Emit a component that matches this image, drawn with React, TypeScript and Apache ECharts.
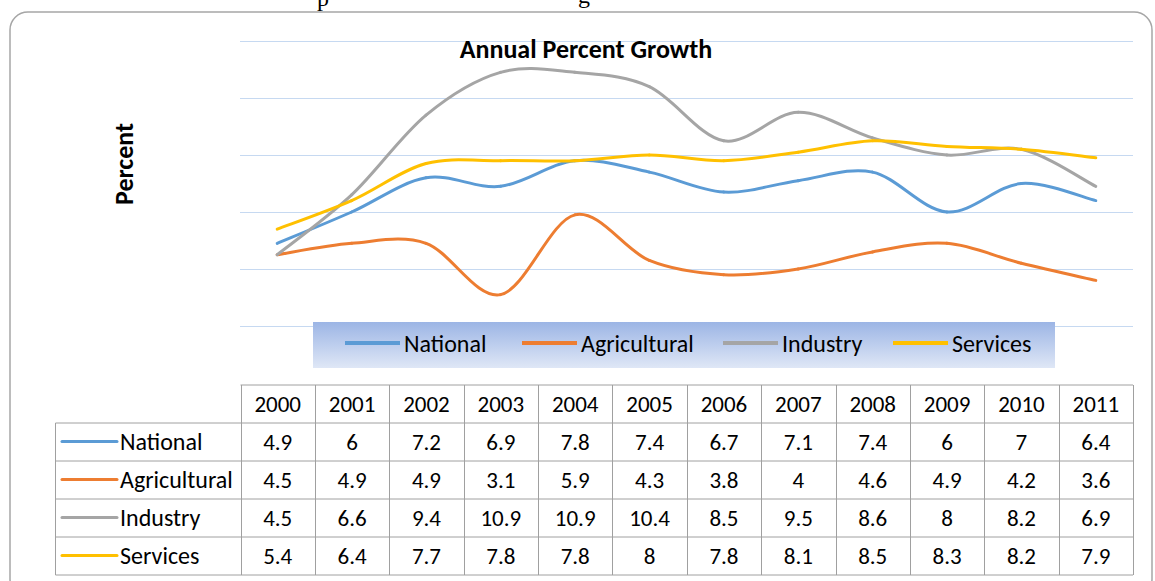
import React, { useEffect, useRef } from "react";
import * as echarts from "echarts";

const years = ["2000", "2001", "2002", "2003", "2004", "2005", "2006", "2007", "2008", "2009", "2010", "2011"];
const seriesNames = ["National", "Agricultural", "Industry", "Services"];
const national = [4.9, 6, 7.2, 6.9, 7.8, 7.4, 6.7, 7.1, 7.4, 6, 7, 6.4];
const agricultural = [4.5, 4.9, 4.9, 3.1, 5.9, 4.3, 3.8, 4, 4.6, 4.9, 4.2, 3.6];
const industry = [4.5, 6.6, 9.4, 10.9, 10.9, 10.4, 8.5, 9.5, 8.6, 8, 8.2, 6.9];
const services = [5.4, 6.4, 7.7, 7.8, 7.8, 8, 7.8, 8.1, 8.5, 8.3, 8.2, 7.9];
const seriesColors = ["#5b9bd5", "#ed7d31", "#a5a5a5", "#ffc000"];
const yMin = 2;
const yMax = 12;
const yInterval = 2;

const FONT = 'Carlito, "Liberation Sans", Arial, sans-serif';

// segment rows built from a series: [index, prevValue, value, nextValue, next2Value]
function segments(values: number[]) {
  const rows: number[][] = [];
  for (let i = 0; i < values.length - 1; i++) {
    const prev = i > 0 ? values[i - 1] : values[i];
    const next2 = i + 2 < values.length ? values[i + 2] : values[i + 1];
    rows.push([i, prev, values[i], values[i + 1], next2]);
  }
  return rows;
}

export default function App() {
  const ref = useRef<HTMLDivElement>(null);

  useEffect(() => {
    if (!ref.current) return;
    const chart = echarts.init(ref.current, null, { renderer: "svg" });
    const allData = [national, agricultural, industry, services];
    const n = years.length;

    const tLeft = 240.5;
    const tRight = 1133;
    const labLeft = 55.5;
    const colW = (tRight - tLeft) / n;
    const headTop = 385;
    const rowH = 38;
    const rowsTop = 423;
    const tBottom = rowsTop + rowH * seriesNames.length;
    const lineStyle = { stroke: "#a0a0a0", lineWidth: 1 };

    const graphics: any[] = [];
    graphics.push({
      type: "rect",
      z: 0,
      shape: { x: 10, y: 12, width: 1142, height: 585, r: 18 },
      style: { fill: "none", stroke: "#a6a6a6", lineWidth: 1.5 },
    });
    graphics.push({
      type: "text",
      z: 1,
      x: 317,
      y: -14,
      style: { text: "p", font: '24px "Liberation Serif", "Times New Roman", serif', fill: "#000" },
    });
    graphics.push({
      type: "text",
      z: 1,
      x: 578,
      y: -17,
      style: { text: "g", font: '24px "Liberation Serif", "Times New Roman", serif', fill: "#000" },
    });
    graphics.push({
      type: "text",
      z: 10,
      x: 586,
      y: 49,
      style: {
        text: "Annual Percent Growth",
        font: `bold 26px ${FONT}`,
        fill: "#000",
        align: "center",
        verticalAlign: "middle",
      },
    });
    graphics.push({
      type: "text",
      z: 10,
      x: 124,
      y: 164,
      rotation: Math.PI / 2,
      style: {
        text: "Percent",
        font: `bold 26px ${FONT}`,
        fill: "#000",
        align: "center",
        verticalAlign: "middle",
      },
    });
    graphics.push({
      type: "rect",
      z: 5,
      shape: { x: 313, y: 322, width: 742, height: 46 },
      style: {
        fill: new echarts.graphic.LinearGradient(0, 0, 0, 1, [
          { offset: 0, color: "#9cb5e5" },
          { offset: 1, color: "#dfe7f6" },
        ]),
      },
    });
    graphics.push({ type: "line", z: 5, shape: { x1: tLeft, y1: headTop, x2: tRight, y2: headTop }, style: lineStyle });
    for (let r = 0; r <= seriesNames.length; r++) {
      const y = rowsTop + r * rowH;
      graphics.push({ type: "line", z: 5, shape: { x1: labLeft, y1: y, x2: tRight, y2: y }, style: lineStyle });
    }
    graphics.push({ type: "line", z: 5, shape: { x1: labLeft, y1: rowsTop, x2: labLeft, y2: tBottom }, style: lineStyle });
    for (let c = 0; c <= n; c++) {
      const x = Math.round(tLeft + c * colW) + 0.5;
      graphics.push({ type: "line", z: 5, shape: { x1: x, y1: headTop, x2: x, y2: tBottom }, style: lineStyle });
    }
    years.forEach((yr, c) => {
      graphics.push({
        type: "text",
        z: 6,
        x: tLeft + (c + 0.5) * colW,
        y: headTop + rowH / 2,
        style: { text: yr, font: `23px ${FONT}`, fill: "#000", align: "center", verticalAlign: "middle" },
      });
    });
    seriesNames.forEach((name, r) => {
      const cy = rowsTop + r * rowH + rowH / 2 - 0.5;
      graphics.push({
        type: "line",
        z: 6,
        shape: { x1: 62, y1: cy, x2: 117, y2: cy },
        style: { stroke: seriesColors[r], lineWidth: 3, lineCap: "round" },
      });
      graphics.push({
        type: "text",
        z: 6,
        x: 120,
        y: cy,
        style: { text: name, font: `24px ${FONT}`, fill: "#000", align: "left", verticalAlign: "middle" },
      });
      allData[r].forEach((v, c) => {
        graphics.push({
          type: "text",
          z: 6,
          x: tLeft + (c + 0.5) * colW,
          y: cy,
          style: { text: String(v), font: `23px ${FONT}`, fill: "#000", align: "center", verticalAlign: "middle" },
        });
      });
    });

    const legendLefts = [345, 522, 723, 893];

    const makeRender = (color: string) => (params: any, api: any) => {
      const i = api.value(0);
      const p0 = api.coord([Math.max(i - 1, 0), api.value(1)]);
      const p1 = api.coord([i, api.value(2)]);
      const p2 = api.coord([i + 1, api.value(3)]);
      const p3 = api.coord([Math.min(i + 2, n - 1), api.value(4)]);
      const k = 1 / 6;
      return {
        type: "bezierCurve",
        shape: {
          x1: p1[0],
          y1: p1[1],
          x2: p2[0],
          y2: p2[1],
          cpx1: p1[0] + (p2[0] - p0[0]) * k,
          cpy1: p1[1] + (p2[1] - p0[1]) * k,
          cpx2: p2[0] - (p3[0] - p1[0]) * k,
          cpy2: p2[1] - (p3[1] - p1[1]) * k,
        },
        style: { stroke: color, lineWidth: 3, fill: null, lineCap: "round" },
      };
    };

    chart.setOption({
      animation: false,
      backgroundColor: "#fff",
      grid: { left: 240, right: 22, top: 41, height: 285, containLabel: false },
      xAxis: {
        type: "category",
        data: years,
        boundaryGap: true,
        axisLine: { show: false },
        axisTick: { show: false },
        axisLabel: { show: false },
      },
      yAxis: {
        type: "value",
        min: yMin,
        max: yMax,
        interval: yInterval,
        axisLabel: { show: false },
        axisLine: { show: false },
        axisTick: { show: false },
        splitLine: { lineStyle: { color: "#c6d9f1", width: 1.2 } },
      },
      legend: seriesNames.map((nm, i) => ({
        data: [nm],
        left: legendLefts[i],
        top: 331,
        z: 10,
        icon: "rect",
        itemWidth: 55,
        itemHeight: 4,
        padding: 0,
        textStyle: { fontFamily: FONT, fontSize: 24, color: "#000", padding: [0, 0, 0, -1] },
        selectedMode: false,
      })),
      graphic: graphics,
      series: allData.map((d, i) => ({
        name: seriesNames[i],
        type: "custom",
        data: segments(d),
        encode: { x: 0, y: [2, 3] },
        renderItem: makeRender(seriesColors[i]),
        itemStyle: { color: seriesColors[i] },
        clip: false,
        z: 3,
      })),
    });

    return () => chart.dispose();
  }, []);

  return <div ref={ref} style={{ position: "fixed", left: 0, top: 0, width: 1155, height: 581 }} />;
}
